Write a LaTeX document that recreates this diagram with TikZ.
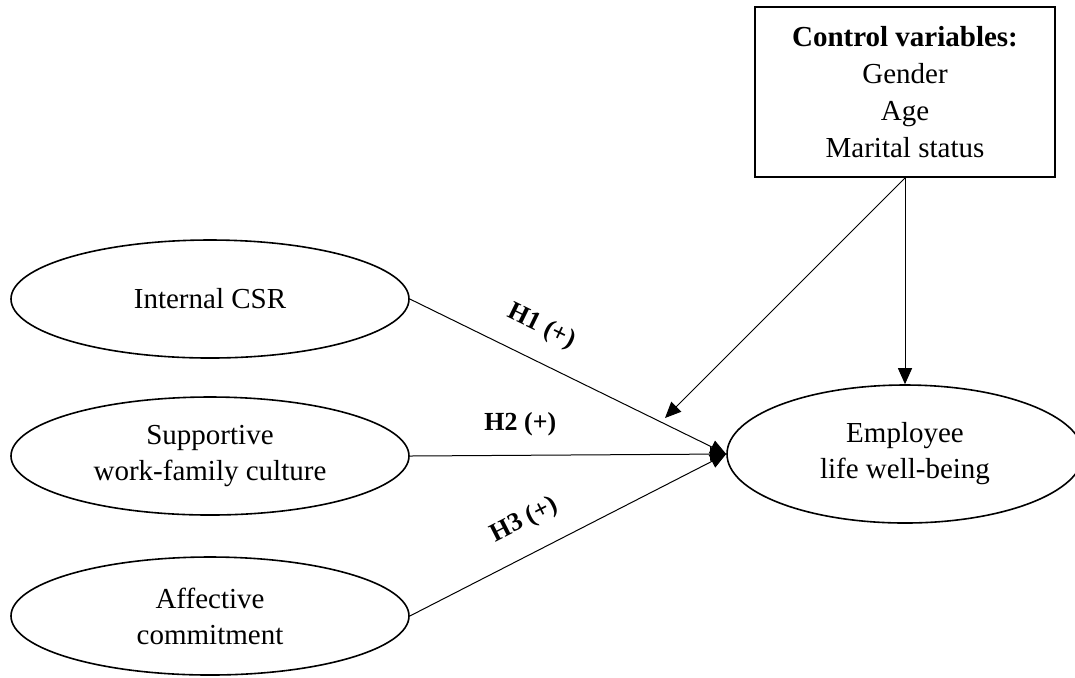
\documentclass[tikz,border=0pt]{standalone}
\usepackage{fontspec}
\setmainfont{Liberation Serif}
\usepackage{tikz}
\usetikzlibrary{shapes.geometric, arrows.meta, positioning}

\begin{document}
\begin{tikzpicture}[x=0.5pt, y=-0.5pt,
  var/.style={ellipse, draw, line width=0.8pt, inner sep=0pt,
    minimum width=199pt, minimum height=59pt, align=center,
    font=\fontsize{14.5}{18}\selectfont},
  ctl/.style={rectangle, draw, line width=1pt, minimum width=150pt,
    minimum height=85pt, align=center, font=\fontsize{14.5}{18.5}\selectfont},
  arr/.style={-{Triangle[length=8pt, width=7pt]}, line width=0.5pt},
  hyp/.style={font=\fontsize{13}{15}\selectfont\bfseries, sloped},
]
\useasboundingbox (0,0) rectangle (1075,677);
\node[var] (icsr) at (210, 299) {Internal CSR};
\node[var] (swfc) at (210, 456) {Supportive\\work-family culture};
\node[var] (affc) at (210, 616) {Affective\\commitment};
\node[var, minimum width=178pt, minimum height=69pt] (elwb) at (905, 454)
  {Employee\\life well-being};
\node[ctl] (ctrl) at (905, 92)
  {\textbf{Control variables:}\\Gender\\Age\\Marital status};
\coordinate (onH1) at (665, 418);
\draw[arr] (icsr.east) -- node[hyp, pos=0.37, above=7pt] {H1 (+)} (elwb.west);
\draw[arr] (swfc.east) -- node[hyp, pos=0.35, above=6pt] {H2 (+)} (elwb.west);
\draw[arr] (affc.east) -- node[hyp, pos=0.41, above=7pt] {H3 (+)} (elwb.west);
\draw[arr] (ctrl.south) -- (elwb);
\draw[arr] (ctrl.south) -- (onH1);
\end{tikzpicture}
\end{document}
